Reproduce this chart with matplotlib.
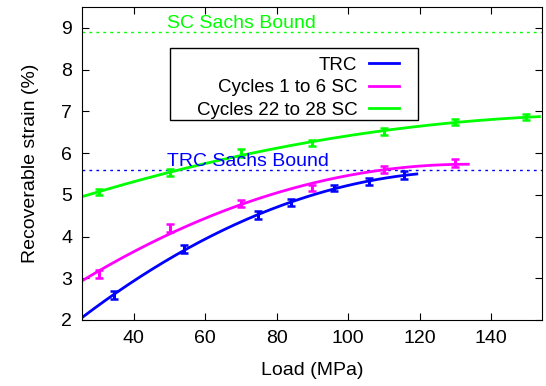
import numpy as np
import matplotlib.pyplot as plt
from matplotlib.patches import Rectangle

plt.rcParams['font.family'] = ['Liberation Sans', 'DejaVu Sans']

# datos
carga_trc = [34.4, 54.2, 74.7, 84.0, 96.1, 105.8, 115.7]
def_trc = [2.60, 3.70, 4.51, 4.81, 5.16, 5.32, 5.47]
err_trc = [0.09, 0.09, 0.09, 0.08, 0.08, 0.08, 0.09]

carga_c16 = [30.3, 50.2, 70.1, 90.0, 109.9, 129.9]
def_c16 = [3.10, 4.21, 4.79, 5.16, 5.60, 5.76]
err_c16 = [0.10, 0.10, 0.08, 0.08, 0.08, 0.09]

carga_c22 = [30.3, 50.2, 70.1, 90.0, 109.9, 129.8, 149.8]
def_c22 = [5.07, 5.53, 6.00, 6.24, 6.52, 6.74, 6.86]
err_c22 = [0.08, 0.08, 0.09, 0.08, 0.08, 0.08, 0.08]

rango_trc = [25.5, 119.2]
rango_c16 = [25.5, 133.6]
rango_c22 = [25.5, 153.5]

sachs_sc = 8.9
sachs_trc = 5.6

azul = '#0000ff'
magenta = '#ff00ff'
verde = '#00ff00'


def dibujar_serie(ax, x, y, err, rango, color, etiqueta):
    coef = np.polyfit(x, y, 2)
    xs = np.linspace(rango[0], rango[1], 200)
    ax.plot(xs, np.polyval(coef, xs), color=color, lw=2, label=etiqueta)
    ax.errorbar(x, y, yerr=err, fmt='none', ecolor=color, elinewidth=2.2,
                capsize=2.8, capthick=1.8)


fig = plt.figure(figsize=(5.46, 3.86), dpi=100)
ax = fig.add_axes([0.150, 0.171, 0.8425, 0.811])

ax.axhline(sachs_sc, color=verde, lw=1, ls=(0, (2, 3)))
ax.axhline(sachs_trc, color=azul, lw=1, ls=(0, (2, 3)))

dibujar_serie(ax, carga_trc, def_trc, err_trc, rango_trc, azul, 'TRC')
dibujar_serie(ax, carga_c16, def_c16, err_c16, rango_c16, magenta, 'Cycles 1 to 6 SC')
dibujar_serie(ax, carga_c22, def_c22, err_c22, rango_c22, verde, 'Cycles 22 to 28 SC')

ax.text(49.2, 9.0, 'SC Sachs Bound', color=verde, fontsize=14, va='baseline')
ax.text(49.2, 5.7, 'TRC Sachs Bound', color=azul, fontsize=14, va='baseline')

ax.set_xlim(25.5, 154.2)
ax.set_ylim(2, 9.5)
ax.set_xticks([40, 60, 80, 100, 120, 140])
ax.set_yticks([2, 3, 4, 5, 6, 7, 8, 9])
ax.tick_params(direction='in', top=True, right=True, labelsize=14, length=5, pad=7)
ax.set_xlabel('Load (MPa)', fontsize=14, labelpad=11)
ax.set_ylabel('Recoverable strain (%)', fontsize=14, labelpad=16)

# caja de la leyenda al estilo gnuplot
ax.add_patch(Rectangle((0.191, 0.639), 0.539, 0.230, transform=ax.transAxes,
                       fill=False, edgecolor='black', lw=1, zorder=5))
leg = ax.legend(loc='upper right', bbox_to_anchor=(0.709, 0.872), markerfirst=False,
                fontsize=13.5, frameon=False, handlelength=1.6, borderpad=0,
                labelspacing=0.3, handletextpad=0.6)
for t in leg.get_texts():
    t.set_ha('right')

fig.savefig('out.png', dpi=100)
